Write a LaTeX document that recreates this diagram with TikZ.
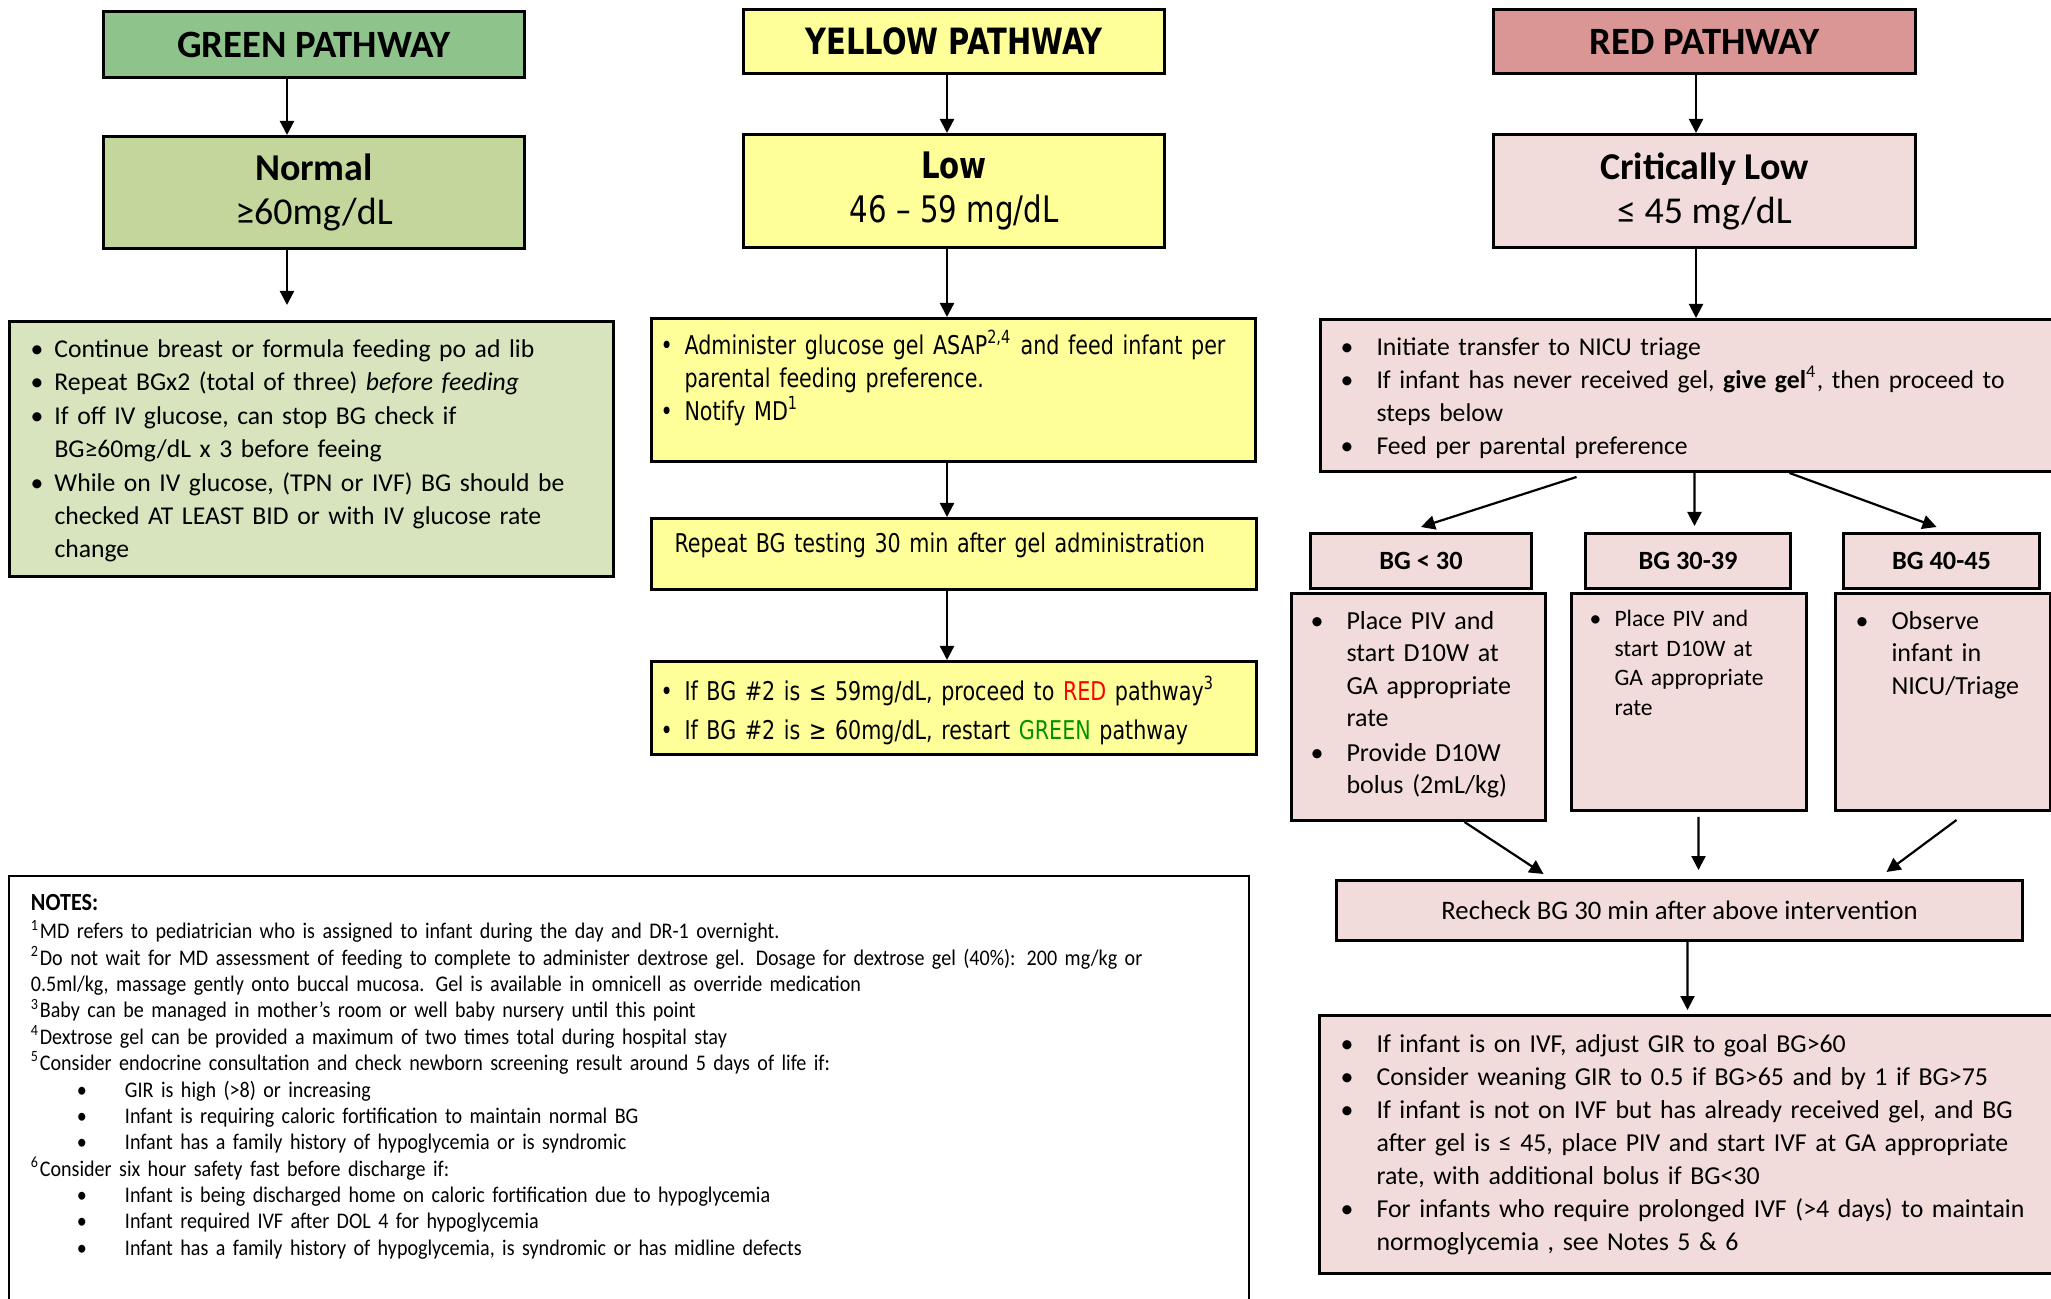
\documentclass[tikz,border=0pt]{standalone}
\usepackage{fontspec}
\setmainfont{Carlito}
\newfontfamily\yfont[FakeStretch=0.8]{DejaVu Sans}
\newfontfamily\nfont[FakeStretch=0.9]{Carlito}
\usetikzlibrary{positioning, calc, arrows.meta}

\definecolor{gHeadFill}{RGB}{142,196,140}
\definecolor{gNormFill}{RGB}{195,214,155}
\definecolor{gBulFill}{RGB}{215,228,189}
\definecolor{yFill}{RGB}{255,255,153}
\definecolor{rHeadFill}{RGB}{217,150,148}
\definecolor{rFill}{RGB}{242,220,219}
\definecolor{okGreen}{RGB}{0,145,0}

\newcommand{\fs}[2]{\fontsize{#1}{#2}\selectfont}
\newcommand{\bitem}[2]{\noindent\hangindent=#1\hangafter=1\makebox[#1][l]{\textbullet}#2\par}
\newcommand{\nbul}[1]{\noindent\hspace*{4.6mm}\makebox[4.8mm][l]{\textbullet}#1\par}

\begin{document}
\begin{tikzpicture}[x=0.1mm, y=-0.1mm,
	box/.style={draw, line width=0.3mm, anchor=north west, inner sep=0pt},
	title/.style={box, align=center},
	panel/.style={box, align=left},
	arr/.style={-{Triangle[length=1.4mm,width=1.4mm]}, line width=0.22mm}]
	\useasboundingbox (0,0) rectangle (2051,1299);

	% green pathway
	\node[title, fill=gHeadFill, minimum width=42.1mm, minimum height=6.6mm, font=\fs{11}{12}\bfseries] (gHead) at (102,10) {GREEN PATHWAY};
	\node[title, fill=gNormFill, minimum width=42.1mm, minimum height=11.2mm, font=\fs{10.8}{12.5}] (gNorm) at (102,135) {\textbf{Normal}\\≥60mg/dL};
	\node[panel, fill=gBulFill, text width=60.4mm, text height=3.6mm, text depth=21.9mm, font=\fs{7.3}{9.5}] (gBul) at (8,320) {\leftskip=2.1mm\relax
		\bitem{2.4mm}{Continue breast or formula feeding po ad lib}
		\bitem{2.4mm}{Repeat BGx2 (total of three) \textit{before feeding}}
		\bitem{2.4mm}{If off IV glucose, can stop BG check if\newline BG≥60mg/dL x 3 before feeing}
		\bitem{2.4mm}{While on IV glucose, (TPN or IVF) BG should be\newline checked AT LEAST BID or with IV glucose rate\newline change}};
	\coordinate (gx) at (287,0);
	\coordinate (gTip) at (287,305);
	\draw[arr] (gHead.south -| gx) -- (gNorm.north -| gx);
	\draw[arr] (gNorm.south -| gx) -- (gTip);

	% yellow pathway
	\node[title, fill=yFill, minimum width=42.1mm, minimum height=6.4mm, font=\yfont\fs{10.3}{11}\bfseries] (yHead) at (742,8) {YELLOW PATHWAY};
	\node[title, fill=yFill, minimum width=42.1mm, minimum height=11.3mm, font=\yfont\fs{10.4}{12.5}] (yLow) at (742,133) {\textbf{Low}\\46 – 59 mg/dL};
	\node[panel, fill=yFill, text width=60.4mm, text height=3.6mm, text depth=10.7mm, font=\yfont\fs{7.35}{9.4}] (yBul) at (650,317) {\leftskip=0.9mm\relax
		\bitem{2.4mm}{Administer glucose gel ASAP\textsuperscript{2,4} and feed infant per\newline parental feeding preference.}
		\bitem{2.4mm}{Notify MD\textsuperscript{1}}};
	\node[panel, fill=yFill, text width=60.5mm, text height=3.4mm, text depth=3.7mm, font=\yfont\fs{7.35}{9.4}] (yRep) at (650,517) {\leftskip=2.3mm\relax
		Repeat BG testing 30 min after gel administration\par};
	\node[panel, fill=yFill, text width=60.5mm, text height=3.9mm, text depth=5.4mm, font=\yfont\fs{7.35}{11}] (yRes) at (650,660) {\leftskip=0.9mm\relax
		\bitem{2.4mm}{If BG \#2 is ≤ 59mg/dL, proceed to \textcolor{red}{RED} pathway\textsuperscript{3}}
		\bitem{2.4mm}{If BG \#2 is ≥ 60mg/dL, restart \textcolor{okGreen}{GREEN} pathway}};
	\coordinate (yx) at (947,0);
	\draw[arr] (yHead.south -| yx) -- (yLow.north -| yx);
	\draw[arr] (yLow.south -| yx) -- (yBul.north -| yx);
	\draw[arr] (yBul.south -| yx) -- (yRep.north -| yx);
	\draw[arr] (yRep.south -| yx) -- (yRes.north -| yx);

	% red pathway
	\node[title, fill=rHeadFill, minimum width=42.2mm, minimum height=6.4mm, font=\fs{11}{12}\bfseries] (rHead) at (1492,8) {RED PATHWAY};
	\node[title, fill=rFill, minimum width=42.2mm, minimum height=11.3mm, font=\fs{10.8}{12.5}] (rCrit) at (1492,133) {\textbf{Critically Low}\\≤ 45 mg/dL};
	\node[panel, fill=rFill, text width=76mm, text height=3.6mm, text depth=11.6mm, font=\fs{7.3}{9.4}] (rBul) at (1319,318) {\leftskip=2.0mm\relax
		\bitem{3.6mm}{Initiate transfer to NICU triage}
		\bitem{3.6mm}{If infant has never received gel, \textbf{give gel}\textsuperscript{4}, then proceed to\newline steps below}
		\bitem{3.6mm}{Feed per parental preference}};
	\coordinate (rx) at (1696,0);
	\draw[arr] (rHead.south -| rx) -- (rCrit.north -| rx);
	\draw[arr] (rCrit.south -| rx) -- (rBul.north -| rx);

	\node[title, fill=rFill, minimum width=22.1mm, minimum height=5.5mm, font=\fs{7.5}{9}\bfseries] (bgA) at (1309,532) {BG < 30};
	\node[title, fill=rFill, minimum width=20.5mm, minimum height=5.5mm, font=\fs{7.5}{9}\bfseries] (bgB) at (1584,532) {BG 30-39};
	\node[title, fill=rFill, minimum width=19.6mm, minimum height=5.5mm, font=\fs{7.5}{9}\bfseries] (bgC) at (1842,532) {BG 40-45};
	\draw[arr] ([xshift=-12.4mm,yshift=-0.4mm]rBul.south) -- ([yshift=0.5mm]bgA.north);
	\draw[arr] ([xshift=-0.6mm]rBul.south) -- ([xshift=0.65mm,yshift=0.6mm]bgB.north);
	\draw[arr] ([xshift=8.9mm]rBul.south) -- ([xshift=-0.5mm,yshift=0.5mm]bgC.north);

	\node[panel, fill=rFill, text width=25.4mm, text height=3.6mm, text depth=19.1mm, font=\fs{7.4}{9.2}] (dA) at (1290,592) {\leftskip=1.9mm\relax
		\bitem{3.6mm}{Place PIV and\newline start D10W at\newline GA appropriate\newline rate}
		\vspace{0.25mm}
		\bitem{3.6mm}{Provide D10W\newline bolus (2mL/kg)}};
	\node[panel, fill=rFill, text width=23.5mm, text height=3.3mm, text depth=18.4mm, font=\fs{6.7}{8.4}] (dB) at (1570,592) {\leftskip=1.8mm\relax
		\bitem{2.5mm}{Place PIV and\newline start D10W at\newline GA appropriate\newline rate}};
	\node[panel, fill=rFill, text width=21.5mm, text height=3.6mm, text depth=18.1mm, font=\fs{7.4}{9.2}] (dC) at (1834,592) {\leftskip=2.0mm\relax
		\bitem{3.6mm}{Observe\newline infant in\newline NICU/Triage}};

	\node[title, fill=rFill, minimum width=68.6mm, minimum height=6.0mm, font=\fs{7.6}{9}] (rChk) at (1335,879) {Recheck BG 30 min after above intervention};
	\draw[arr] ([xshift=4.6mm]dA.south) -- ([xshift=-13.6mm,yshift=0.5mm]rChk.north);
	\draw[arr] ([xshift=0.95mm,yshift=-0.5mm]dB.south) -- ([xshift=1.9mm,yshift=0.9mm]rChk.north);
	\draw[arr] ([xshift=1.35mm,yshift=-0.8mm]dC.south) -- ([xshift=20.7mm,yshift=0.7mm]rChk.north);

	\node[panel, fill=rFill, text width=76mm, text height=3.7mm, text depth=22.1mm, font=\fs{7.35}{9.4}] (rFin) at (1318,1014) {\leftskip=2.1mm\relax
		\bitem{3.6mm}{If infant is on IVF, adjust GIR to goal BG>60}
		\bitem{3.6mm}{Consider weaning GIR to 0.5 if BG>65 and by 1 if BG>75}
		\bitem{3.6mm}{If infant is not on IVF but has already received gel, and BG\newline after gel is ≤ 45, place PIV and start IVF at GA appropriate\newline rate, with additional bolus if BG<30}
		\bitem{3.6mm}{For infants who require prolonged IVF (>4 days) to maintain\newline normoglycemia , see Notes 5 \& 6}};
	\draw[arr] ([xshift=0.8mm]rChk.south) -- ([xshift=-1.2mm,yshift=0.4mm]rFin.north);

	% notes
	\node[panel, line width=0.2mm, text width=124mm, text height=3.4mm, text depth=41.6mm, font=\nfont\fs{6.35}{7.5}] (notes) at (8,875) {\leftskip=2.2mm\relax
		{\fs{7}{8.5}\bfseries NOTES:\par}\vspace{0.25mm}
		\textsuperscript{1}MD refers to pediatrician who is assigned to infant during the day and DR-1 overnight.\par
		\textsuperscript{2}Do not wait for MD assessment of feeding to complete to administer dextrose gel. Dosage for dextrose gel (40\%): 200 mg/kg or\newline 0.5ml/kg, massage gently onto buccal mucosa. Gel is available in omnicell as override medication\par
		\textsuperscript{3}Baby can be managed in mother’s room or well baby nursery until this point\par
		\textsuperscript{4}Dextrose gel can be provided a maximum of two times total during hospital stay\par
		\textsuperscript{5}Consider endocrine consultation and check newborn screening result around 5 days of life if:\par
		\nbul{GIR is high (>8) or increasing}
		\nbul{Infant is requiring caloric fortification to maintain normal BG}
		\nbul{Infant has a family history of hypoglycemia or is syndromic}
		\textsuperscript{6}Consider six hour safety fast before discharge if:\par
		\nbul{Infant is being discharged home on caloric fortification due to hypoglycemia}
		\nbul{Infant required IVF after DOL 4 for hypoglycemia}
		\nbul{Infant has a family history of hypoglycemia, is syndromic or has midline defects}};
\end{tikzpicture}
\end{document}
